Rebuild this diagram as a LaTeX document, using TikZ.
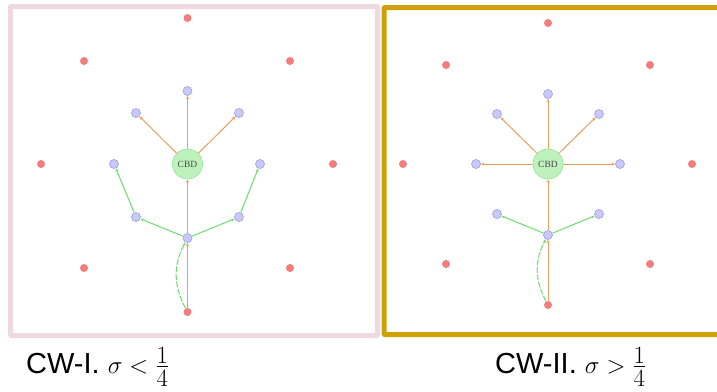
\documentclass[tikz,border=0pt]{standalone}
\usepackage{amsmath,amssymb}
\usepackage[no-math]{fontspec}
\setmainfont{Liberation Sans}
\newfontfamily\cbdfont{Liberation Serif}
\DeclareMathSizes{29}{29}{24}{16}
\usetikzlibrary{arrows.meta}
\definecolor{redpt}{HTML}{F37D7D}
\definecolor{bluefill}{HTML}{C9C9F7}
\definecolor{bluedraw}{HTML}{9C9CE8}
\definecolor{cbdfill}{HTML}{BDF2BD}
\definecolor{cbddraw}{HTML}{96E496}
\definecolor{orangeedge}{HTML}{E9A060}
\definecolor{greenedge}{HTML}{6CDC6C}
\definecolor{pinkframe}{HTML}{EED9E1}
\definecolor{goldframe}{HTML}{CFA106}

\begin{document}
\begin{tikzpicture}[x=1pt,y=-1pt,
    red_node/.style={circle,fill=redpt,minimum size=8pt,inner sep=0},
    blue_node/.style={circle,draw=bluedraw,fill=bluefill,line width=0.6pt,minimum size=9pt,inner sep=0},
    cbd_node/.style={circle,draw=cbddraw,fill=cbdfill,line width=0.6pt,minimum size=30pt,inner sep=0,font=\cbdfont\fontsize{9.5}{10}\selectfont,text=black!70},
    or_edge/.style={draw=orangeedge,line width=1pt,-{Stealth[length=3.5pt,width=3pt]}},
    gr_edge/.style={draw=greenedge,line width=1pt,-{Stealth[length=3.5pt,width=3pt]}},
    caption/.style={anchor=base west,inner sep=0,font=\fontsize{29}{31}\selectfont}]
    \useasboundingbox (0,0) rectangle (717,391);
    % frames
    \draw[pinkframe,line width=5pt,rounded corners=1pt] (10.5,6.5) rectangle (377.5,335.5);
    \draw[goldframe,line width=5pt,rounded corners=1pt] (384,7.5) rectangle (724,334.5);

    % CW-I
    \node[red_node] (a1) at (187.5,18) {};
    \node[red_node] (a2) at (84,61) {};
    \node[red_node] (a3) at (290,61) {};
    \node[red_node] (a4) at (41,164) {};
    \node[red_node] (a5) at (333,164) {};
    \node[red_node] (a6) at (84,268) {};
    \node[red_node] (a7) at (290,268) {};
    \node[red_node] (a8) at (187.5,312) {};
    \node[cbd_node] (acbd) at (187.5,164) {CBD};
    \node[blue_node] (b1) at (187.5,91) {};
    \node[blue_node] (b2) at (136,113) {};
    \node[blue_node] (b3) at (239,113) {};
    \node[blue_node] (b4) at (114,164) {};
    \node[blue_node] (b5) at (260,164) {};
    \node[blue_node] (b6) at (136,217) {};
    \node[blue_node] (b7) at (239,217) {};
    \node[blue_node] (b8) at (187.5,238) {};
    \draw[or_edge] (a8) -- (b8);
    \draw[or_edge] (b8) -- (acbd);
    \draw[or_edge] (acbd) -- (b1);
    \draw[or_edge] (acbd) -- (b2);
    \draw[or_edge] (acbd) -- (b3);
    \draw[gr_edge,dash pattern=on 6pt off 1.5pt] (a8) to[bend left=28] (b8);
    \draw[gr_edge] (b8) -- (b6);
    \draw[gr_edge] (b8) -- (b7);
    \draw[gr_edge] (b6) -- (b4);
    \draw[gr_edge] (b7) -- (b5);

    % CW-II
    \node[red_node] (c1) at (548,23) {};
    \node[red_node] (c2) at (446,65) {};
    \node[red_node] (c3) at (650,65) {};
    \node[red_node] (c4) at (403,164) {};
    \node[red_node] (c5) at (692,164) {};
    \node[red_node] (c6) at (446,264) {};
    \node[red_node] (c7) at (650,264) {};
    \node[red_node] (c8) at (548,305) {};
    \node[cbd_node] (ccbd) at (548,164) {CBD};
    \node[blue_node] (d1) at (548,94) {};
    \node[blue_node] (d2) at (497,114) {};
    \node[blue_node] (d3) at (599,114) {};
    \node[blue_node] (d4) at (476,164) {};
    \node[blue_node] (d5) at (620,164) {};
    \node[blue_node] (d6) at (497,214) {};
    \node[blue_node] (d7) at (599,214) {};
    \node[blue_node] (d8) at (548,235) {};
    \draw[or_edge] (c8) -- (d8);
    \draw[or_edge] (d8) -- (ccbd);
    \draw[or_edge] (ccbd) -- (d1);
    \draw[or_edge] (ccbd) -- (d2);
    \draw[or_edge] (ccbd) -- (d3);
    \draw[or_edge] (ccbd) -- (d4);
    \draw[or_edge] (ccbd) -- (d5);
    \draw[gr_edge,dash pattern=on 6pt off 1.5pt] (c8) to[bend left=28] (d8);
    \draw[gr_edge] (d8) -- (d6);
    \draw[gr_edge] (d8) -- (d7);

    % captions
    \node[caption] (lab1) at (26,373) {CW-I. $\sigma<\frac{1}{\raisebox{-5pt}{$\scriptstyle 4$}}$};
    \node[caption] (lab2) at (495,373) {CW-II. $\sigma>\frac{1}{\raisebox{-5pt}{$\scriptstyle 4$}}$};
\end{tikzpicture}
\end{document}
